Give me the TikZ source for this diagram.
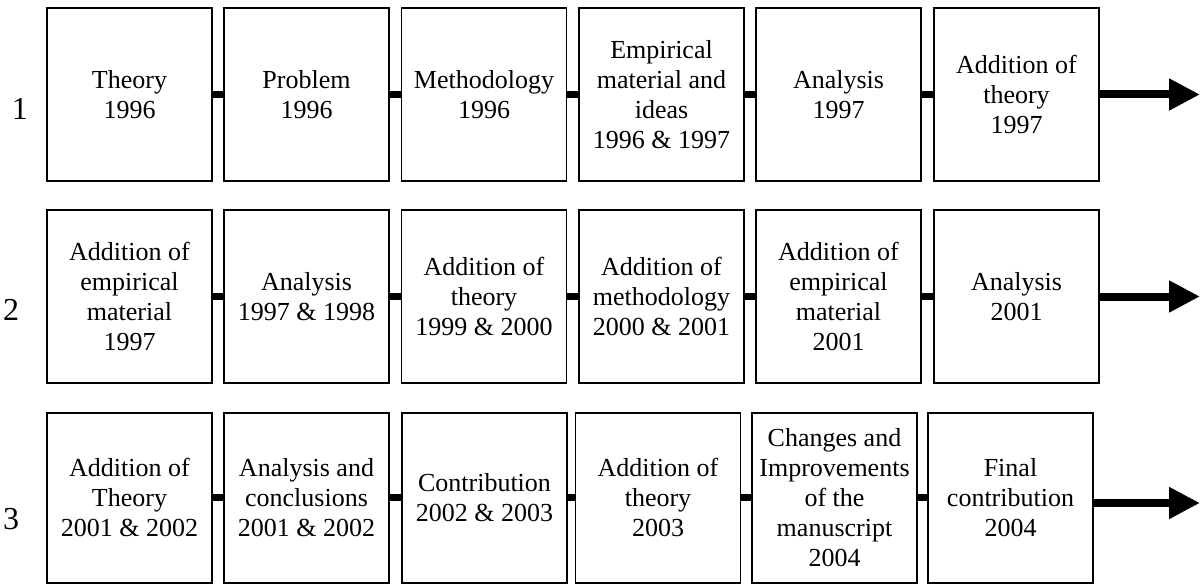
\documentclass[tikz,border=0pt]{standalone}
\usepackage{fontspec}
\setmainfont{Liberation Serif}
\usetikzlibrary{arrows.meta}
\begin{document}
\begin{tikzpicture}[x=1pt,y=-1pt,
  stage/.style={draw, line width=1.8pt, inner sep=0pt, align=center,
    minimum width=165pt, minimum height=173pt,
    font=\fontsize{26}{30}\selectfont},
  stagelow/.style={stage, minimum height=170pt},
  rowlabel/.style={inner sep=0pt, font=\fontsize{32}{36}\selectfont},
  link/.style={line width=6.5pt},
  flow/.style={line width=8pt, -{Triangle[length=31pt,width=30pt]}}]
\useasboundingbox (0,0) rectangle (1204,585);

% row labels
\node[rowlabel] (l1) at (20,109) {1};
\node[rowlabel] (l2) at (11,310) {2};
\node[rowlabel] (l3) at (11,519) {3};

% first row
\node[stage] (a1) at (129.5,94.5) {Theory\\1996};
\node[stage] (b1) at (306.5,94.5) {Problem\\1996};
\node[stage] (c1) at (484,94.5) {Methodology\\1996};
\node[stage] (d1) at (661.5,94.5) {Empirical\\material and\\ideas\\1996 \& 1997};
\node[stage] (e1) at (838.5,94.5) {Analysis\\1997};
\node[stage] (f1) at (1016.5,94.5) {Addition of\\theory\\1997};
\coordinate (t1) at (1200,94.5);

% second row
\node[stage] (a2) at (129.5,296.5) {Addition of\\empirical\\material\\1997};
\node[stage] (b2) at (306.5,296.5) {Analysis\\1997 \& 1998};
\node[stage] (c2) at (484,296.5) {Addition of\\theory\\1999 \& 2000};
\node[stage] (d2) at (661.5,296.5) {Addition of\\methodology\\2000 \& 2001};
\node[stage] (e2) at (838.5,296.5) {Addition of\\empirical\\material\\2001};
\node[stage] (f2) at (1016.5,296.5) {Analysis\\2001};
\coordinate (t2) at (1200,296.5);

% third row
\node[stagelow] (a3) at (129.5,497.7) {Addition of\\Theory\\2001 \& 2002};
\node[stagelow] (b3) at (306.5,497.7) {Analysis and\\conclusions\\2001 \& 2002};
\node[stagelow] (c3) at (484.5,497.7) {Contribution\\2002 \& 2003};
\node[stagelow] (d3) at (658,497.7) {Addition of\\theory\\2003};
\node[stagelow] (e3) at (834.5,497.7) {Changes and\\Improvements\\of the\\manuscript\\2004};
\node[stagelow] (f3) at (1010.5,497.7) {Final\\contribution\\2004};
\coordinate (t3) at (1200,503);

% links between stages
\foreach \r in {1,2,3}{
  \draw[link] (a\r.east) -- (b\r.west);
  \draw[link] (b\r.east) -- (c\r.west);
  \draw[link] (c\r.east) -- (d\r.west);
  \draw[link] (d\r.east) -- (e\r.west);
  \draw[link] (e\r.east) -- (f\r.west);
}

% continuation arrows
\draw[flow] (f1.east) -- (t1);
\draw[flow] (f2.east) -- (t2);
\draw[flow] (f3.east |- t3) -- (t3);
\end{tikzpicture}
\end{document}
